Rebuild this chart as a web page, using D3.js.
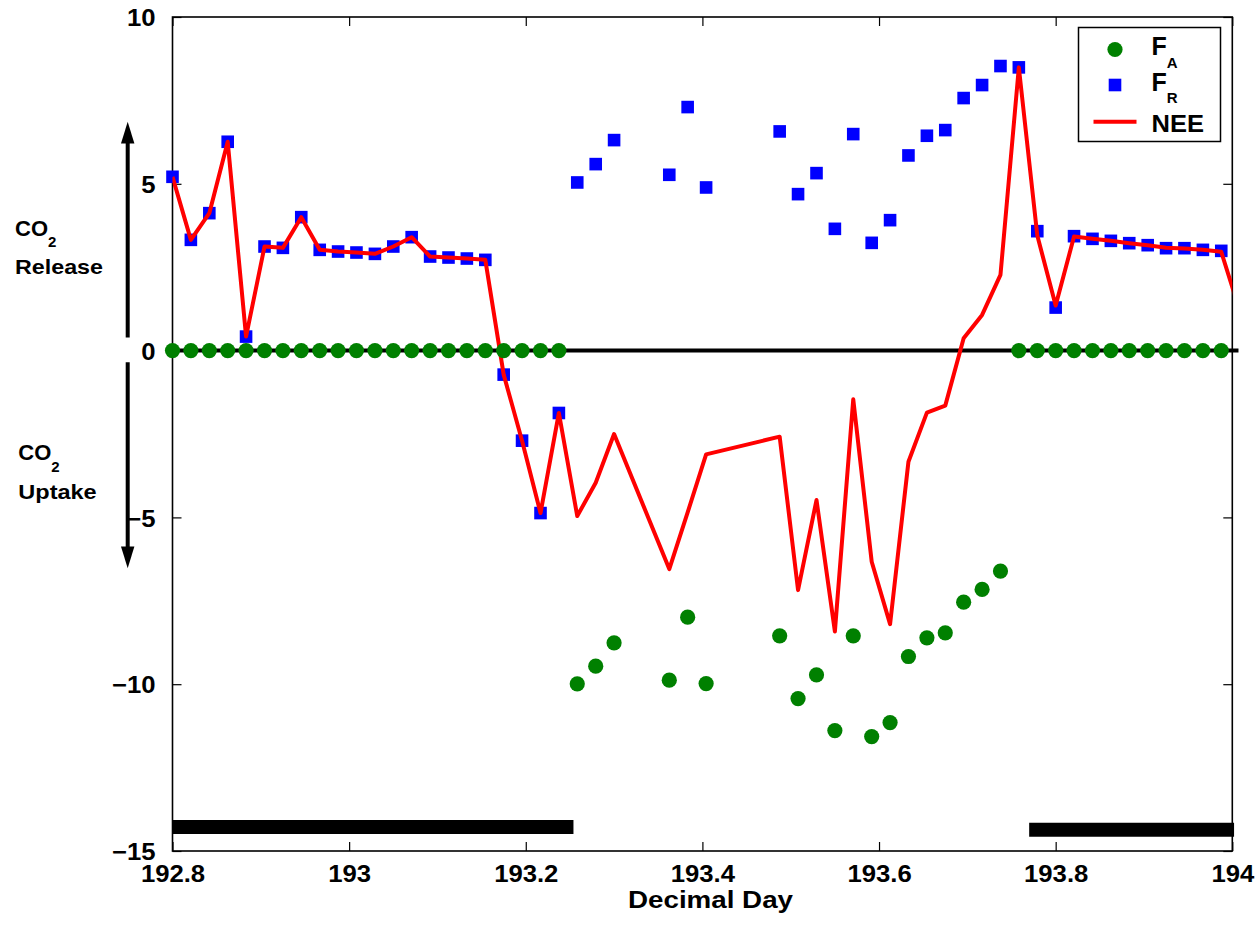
<!DOCTYPE html>
<html>
<head>
<meta charset="utf-8">
<script src="https://cdn.jsdelivr.net/npm/d3@7"></script>
<style>
  html, body { margin: 0; padding: 0; background: #fff; }
  svg text { font-family: "Liberation Sans", Arial, Helvetica, sans-serif; font-weight: bold; fill: #000; }
</style>
</head>
<body>
<svg id="chart" width="1258" height="925"></svg>
<script>
// ---- Data (decimal day, half-hourly) ----
const dayFA = [192.8000,192.8208,192.8417,192.8625,192.8833,192.9042,192.9250,192.9458,192.9667,192.9875,
  193.0083,193.0292,193.0500,193.0708,193.0917,193.1125,193.1333,193.1542,193.1750,193.1958,193.2167,193.2375,
  193.2583,193.2792,193.3000,193.3625,193.3833,193.4042,
  193.4875,193.5083,193.5292,193.5500,193.5708,193.5917,193.6125,193.6333,193.6542,193.6750,193.6958,193.7167,193.7375,
  193.7583,193.7792,193.8000,193.8208,193.8417,193.8625,193.8833,193.9042,193.9250,193.9458,193.9667,193.9875];
const valFA = [0,0,0,0,0,0,0,0,0,0,
  0,0,0,0,0,0,0,0,0,0,0,0,
  -9.99,-9.46,-8.76,-9.88,-7.99,-9.98,
  -8.55,-10.43,-9.72,-11.39,-8.55,-11.57,-11.15,-9.17,-8.61,-8.46,-7.54,-7.16,-6.61,
  0,0,0,0,0,0,0,0,0,0,0,0];
const dayFR = dayFA;
const valFR = [5.21,3.32,4.12,6.26,0.42,3.12,3.08,4.00,3.02,2.97,
  2.94,2.90,3.12,3.40,2.82,2.79,2.76,2.72,-0.72,-2.70,-4.87,-1.87,
  5.04,5.59,6.31,5.27,7.30,4.89,
  6.57,4.69,5.32,3.65,6.49,3.23,3.91,5.85,6.44,6.61,7.57,7.96,8.53,
  8.49,3.58,1.29,3.43,3.35,3.29,3.22,3.16,3.07,3.07,3.02,2.99];
const dayNEE = [192.8000,192.8208,192.8417,192.8625,192.8833,192.9042,192.9250,192.9458,192.9667,192.9875,
  193.0083,193.0292,193.0500,193.0708,193.0917,193.1125,193.1333,193.1542,193.1750,193.1958,193.2167,193.2375,
  193.2583,193.2792,193.3000,193.3625,193.3833,193.4042,
  193.4875,193.5083,193.5292,193.5500,193.5708,193.5917,193.6125,193.6333,193.6542,193.6750,193.6958,193.7167,193.7375,
  193.7583,193.7792,193.8000,193.8208,193.8417,193.8625,193.8833,193.9042,193.9250,193.9458,193.9667,193.9875,194.0083];
const valNEE = [5.21,3.32,4.12,6.26,0.42,3.12,3.08,4.00,3.02,2.97,
  2.94,2.90,3.12,3.40,2.82,2.79,2.76,2.72,-0.72,-2.70,-4.87,-1.87,
  -4.96,-3.96,-2.50,-6.55,-4.85,-3.11,
  -2.58,-7.18,-4.48,-8.42,-1.46,-6.33,-8.20,-3.33,-1.86,-1.65,0.37,1.07,2.27,
  8.49,3.45,1.35,3.42,3.35,3.29,3.22,3.16,3.08,3.06,3.02,2.96,1.20];
// night bars: [start, end, level]
const nightStart = [192.8, 193.77];
const nightEnd = [193.254, 194.002];
const nightLevel = [-14.28, -14.36];
const xTicks = [192.8, 193, 193.2, 193.4, 193.6, 193.8, 194];
const xTickLabels = ["192.8", "193", "193.2", "193.4", "193.6", "193.8", "194"];
const yTicks = [-15, -10, -5, 0, 5, 10];
const yTickLabels = ["\u221215", "\u221210", "\u22125", "0", "5", "10"];

// ---- Layout ----
const svg = d3.select("#chart");
const L = 172.5, R = 1232.3, T = 17, B = 851;
const x = d3.scaleLinear().domain([192.8, 194]).range([L, R]);
const y = d3.scaleLinear().domain([-15, 10]).range([B, T]);
const widen = sel => sel.each(function () {
  const w = this.getComputedTextLength();
  d3.select(this).attr("textLength", w * 1.07).attr("lengthAdjust", "spacingAndGlyphs");
});

svg.append("defs").append("clipPath").attr("id", "clip")
  .append("rect").attr("x", L).attr("y", T).attr("width", R - L).attr("height", B - T);

// axes with inward ticks
const tickLen = 9;
const xAxisB = d3.axisBottom(x).tickValues(xTicks).tickFormat((d, i) => xTickLabels[i]).tickSizeInner(-tickLen).tickSizeOuter(0).tickPadding(20);
const gx = svg.append("g").attr("transform", `translate(0,${B})`).call(xAxisB);
gx.selectAll("text").attr("font-size", 24).attr("dy", 0).attr("y", 31);
const xAxisT = d3.axisTop(x).tickValues(xTicks).tickFormat("").tickSizeInner(-tickLen).tickSizeOuter(0);
svg.append("g").attr("transform", `translate(0,${T})`).call(xAxisT);
const yAxisL = d3.axisLeft(y).tickValues(yTicks).tickFormat((d) => yTickLabels[yTicks.indexOf(d)]).tickSizeInner(-tickLen).tickSizeOuter(0).tickPadding(17);
const gy = svg.append("g").attr("transform", `translate(${L},0)`).call(yAxisL);
gy.selectAll("text").attr("font-size", 24).attr("dy", "0.36em");
const yAxisR = d3.axisRight(y).tickValues(yTicks).tickFormat("").tickSizeInner(-tickLen).tickSizeOuter(0);
svg.append("g").attr("transform", `translate(${R},0)`).call(yAxisR);
svg.selectAll(".domain").remove();
svg.selectAll(".tick line").attr("stroke", "#000").attr("stroke-width", 1.2);
svg.selectAll(".tick text").attr("font-family", "Liberation Sans, Arial, sans-serif").attr("font-weight", "bold").attr("fill", "#000");
gx.selectAll("text").call(widen);
gy.selectAll("text").call(widen);

// box
svg.append("rect").attr("x", L).attr("y", T).attr("width", R - L).attr("height", B - T)
  .attr("fill", "none").attr("stroke", "#000").attr("stroke-width", 1.6);

// zero line
svg.append("line").attr("x1", x(192.8)).attr("x2", x(194.007)).attr("y1", y(0)).attr("y2", y(0))
  .attr("stroke", "#000").attr("stroke-width", 4);

// night bars
nightStart.forEach((s, i) => {
  svg.append("line").attr("x1", x(s)).attr("x2", x(nightEnd[i]))
    .attr("y1", y(nightLevel[i])).attr("y2", y(nightLevel[i]))
    .attr("stroke", "#000").attr("stroke-width", 14);
});

const lineGen = d3.line().x(d => x(d[0])).y(d => y(d[1]));

// F_R squares
const sq = 12.6;
svg.append("g").selectAll("rect").data(dayFR.map((d, i) => [d, valFR[i]])).join("rect")
  .attr("x", d => x(d[0]) - sq / 2).attr("y", d => y(d[1]) - sq / 2)
  .attr("width", sq).attr("height", sq).attr("fill", "#0000ff");

// NEE line
svg.append("path").attr("clip-path", "url(#clip)")
  .attr("d", lineGen(dayNEE.map((d, i) => [d, valNEE[i]])))
  .attr("fill", "none").attr("stroke", "#ff0000").attr("stroke-width", 4).attr("stroke-linejoin", "round");

// F_A circles
svg.append("g").selectAll("circle").data(dayFA.map((d, i) => [d, valFA[i]])).join("circle")
  .attr("cx", d => x(d[0])).attr("cy", d => y(d[1])).attr("r", 7.6).attr("fill", "#008000");

// Legend
const lg = svg.append("g");
lg.append("rect").attr("x", 1078.5).attr("y", 27.5).attr("width", 142).attr("height", 114)
  .attr("fill", "#fff").attr("stroke", "#000").attr("stroke-width", 1.5);
lg.append("circle").attr("cx", 1115).attr("cy", 49.5).attr("r", 7.6).attr("fill", "#008000");
lg.append("rect").attr("x", 1115 - sq / 2).attr("y", 85 - sq / 2).attr("width", sq).attr("height", sq).attr("fill", "#0000ff");
lg.append("line").attr("x1", 1093.5).attr("x2", 1136.5).attr("y1", 121.7).attr("y2", 121.7)
  .attr("stroke", "#ff0000").attr("stroke-width", 4);
const t1 = lg.append("text").attr("x", 1151.5).attr("y", 55).attr("font-size", 25);
t1.append("tspan").text("F");
t1.append("tspan").attr("font-size", 15).attr("dy", 13).text("A");
const t2 = lg.append("text").attr("x", 1151.5).attr("y", 90.7).attr("font-size", 25);
t2.append("tspan").text("F");
t2.append("tspan").attr("font-size", 15).attr("dy", 12.6).text("R");
lg.append("text").attr("x", 1151.5).attr("y", 131.7).attr("font-size", 24)
  .attr("textLength", 52.5).attr("lengthAdjust", "spacingAndGlyphs").text("NEE");

// X label
svg.append("text").attr("x", 628).attr("y", 908).attr("font-size", 24)
  .attr("textLength", 165).attr("lengthAdjust", "spacingAndGlyphs").text("Decimal Day");

// Left annotations
const ax = 127.7;
const arr = svg.append("g");
arr.append("line").attr("x1", ax).attr("x2", ax).attr("y1", 140).attr("y2", 337.5).attr("stroke", "#000").attr("stroke-width", 4);
arr.append("path").attr("d", `M${ax},121.7 L${ax - 6.7},143.5 L${ax + 6.7},143.5 Z`).attr("fill", "#000");
arr.append("line").attr("x1", ax).attr("x2", ax).attr("y1", 362.3).attr("y2", 550).attr("stroke", "#000").attr("stroke-width", 4);
arr.append("path").attr("d", `M${ax},568.3 L${ax - 6.7},546.5 L${ax + 6.7},546.5 Z`).attr("fill", "#000");

const c1 = svg.append("text").attr("x", 15).attr("y", 236).attr("font-size", 22);
c1.append("tspan").text("CO");
c1.append("tspan").attr("font-size", 15).attr("dy", 10.7).text("2");
svg.append("text").attr("x", 15).attr("y", 274).attr("font-size", 21)
  .attr("textLength", 88).attr("lengthAdjust", "spacingAndGlyphs").text("Release");
const c2 = svg.append("text").attr("x", 18.3).attr("y", 460).attr("font-size", 22);
c2.append("tspan").text("CO");
c2.append("tspan").attr("font-size", 15).attr("dy", 11.7).text("2");
svg.append("text").attr("x", 18.3).attr("y", 499.3).attr("font-size", 21)
  .attr("textLength", 78.4).attr("lengthAdjust", "spacingAndGlyphs").text("Uptake");
</script>
</body>
</html>
